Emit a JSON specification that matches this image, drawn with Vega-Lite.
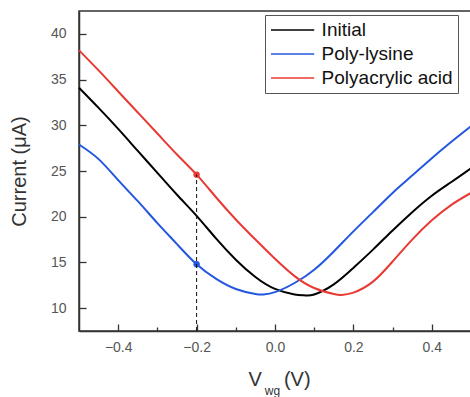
{
  "$schema": "https://vega.github.io/schema/vega-lite/v6.json",
  "width": 392,
  "height": 320,
  "autosize": {"type": "none"},
  "padding": {"left": 79, "top": 11, "right": 0, "bottom": 66},
  "background": "white",
  "config": {
    "view": {"stroke": "#333", "strokeWidth": 1.5},
    "font": "Liberation Sans",
    "axis": {"grid": false, "domainColor": "#333", "domainWidth": 1.5, "tickColor": "#333", "tickWidth": 1.3, "labelColor": "#555", "titleColor": "#333", "labelFont": "Liberation Sans", "titleFont": "Liberation Sans", "titleFontWeight": "normal"}
  },
  "datasets": {
    "curves": [
      {"s": "Initial", "v": -0.5, "i": 34.1}, {"s": "Initial", "v": -0.45, "i": 31.9}, {"s": "Initial", "v": -0.4, "i": 29.6}, {"s": "Initial", "v": -0.35, "i": 27.2}, {"s": "Initial", "v": -0.3, "i": 24.8}, {"s": "Initial", "v": -0.25, "i": 22.4}, {"s": "Initial", "v": -0.2, "i": 20.1}, {"s": "Initial", "v": -0.15, "i": 17.6}, {"s": "Initial", "v": -0.1, "i": 15.3}, {"s": "Initial", "v": -0.05, "i": 13.4}, {"s": "Initial", "v": 0, "i": 12.1}, {"s": "Initial", "v": 0.05, "i": 11.5}, {"s": "Initial", "v": 0.075, "i": 11.4}, {"s": "Initial", "v": 0.1, "i": 11.5}, {"s": "Initial", "v": 0.15, "i": 12.6}, {"s": "Initial", "v": 0.2, "i": 14.4}, {"s": "Initial", "v": 0.25, "i": 16.4}, {"s": "Initial", "v": 0.3, "i": 18.5}, {"s": "Initial", "v": 0.35, "i": 20.5}, {"s": "Initial", "v": 0.4, "i": 22.3}, {"s": "Initial", "v": 0.45, "i": 23.8}, {"s": "Initial", "v": 0.5, "i": 25.3},
      {"s": "Poly-lysine", "v": -0.5, "i": 27.9}, {"s": "Poly-lysine", "v": -0.45, "i": 26.3}, {"s": "Poly-lysine", "v": -0.4, "i": 24.0}, {"s": "Poly-lysine", "v": -0.35, "i": 21.7}, {"s": "Poly-lysine", "v": -0.3, "i": 19.3}, {"s": "Poly-lysine", "v": -0.25, "i": 17.0}, {"s": "Poly-lysine", "v": -0.2, "i": 14.8}, {"s": "Poly-lysine", "v": -0.15, "i": 13.2}, {"s": "Poly-lysine", "v": -0.1, "i": 12.1}, {"s": "Poly-lysine", "v": -0.05, "i": 11.55}, {"s": "Poly-lysine", "v": -0.03, "i": 11.5}, {"s": "Poly-lysine", "v": 0, "i": 11.75}, {"s": "Poly-lysine", "v": 0.05, "i": 12.75}, {"s": "Poly-lysine", "v": 0.1, "i": 14.2}, {"s": "Poly-lysine", "v": 0.15, "i": 16.2}, {"s": "Poly-lysine", "v": 0.2, "i": 18.4}, {"s": "Poly-lysine", "v": 0.25, "i": 20.5}, {"s": "Poly-lysine", "v": 0.3, "i": 22.6}, {"s": "Poly-lysine", "v": 0.35, "i": 24.5}, {"s": "Poly-lysine", "v": 0.4, "i": 26.4}, {"s": "Poly-lysine", "v": 0.45, "i": 28.2}, {"s": "Poly-lysine", "v": 0.5, "i": 29.9},
      {"s": "Polyacrylic acid", "v": -0.5, "i": 38.2}, {"s": "Polyacrylic acid", "v": -0.45, "i": 36.0}, {"s": "Polyacrylic acid", "v": -0.4, "i": 33.7}, {"s": "Polyacrylic acid", "v": -0.35, "i": 31.4}, {"s": "Polyacrylic acid", "v": -0.3, "i": 29.1}, {"s": "Polyacrylic acid", "v": -0.25, "i": 26.8}, {"s": "Polyacrylic acid", "v": -0.2, "i": 24.6}, {"s": "Polyacrylic acid", "v": -0.15, "i": 22.1}, {"s": "Polyacrylic acid", "v": -0.1, "i": 19.7}, {"s": "Polyacrylic acid", "v": -0.05, "i": 17.5}, {"s": "Polyacrylic acid", "v": 0, "i": 15.4}, {"s": "Polyacrylic acid", "v": 0.05, "i": 13.5}, {"s": "Polyacrylic acid", "v": 0.1, "i": 12.2}, {"s": "Polyacrylic acid", "v": 0.15, "i": 11.55}, {"s": "Polyacrylic acid", "v": 0.17, "i": 11.45}, {"s": "Polyacrylic acid", "v": 0.2, "i": 11.7}, {"s": "Polyacrylic acid", "v": 0.25, "i": 12.9}, {"s": "Polyacrylic acid", "v": 0.3, "i": 15.1}, {"s": "Polyacrylic acid", "v": 0.35, "i": 17.5}, {"s": "Polyacrylic acid", "v": 0.4, "i": 19.6}, {"s": "Polyacrylic acid", "v": 0.45, "i": 21.3}, {"s": "Polyacrylic acid", "v": 0.5, "i": 22.6}
    ],
    "marks": [
      {"s": "Poly-lysine", "v": -0.2, "i": 14.8},
      {"s": "Polyacrylic acid", "v": -0.2, "i": 24.6}
    ],
    "guide": [
      {"v": -0.2, "lo": 7.5, "hi": 24.6}
    ]
  },
  "layer": [
    {
      "layer": [
        {
          "data": {"name": "curves"},
          "mark": {"type": "line", "strokeWidth": 2, "interpolate": "natural"},
          "encoding": {
            "x": {"field": "v", "type": "quantitative",
              "scale": {"domain": [-0.5, 0.5], "nice": false, "zero": false},
              "axis": {"values": [-0.4, -0.3, -0.2, -0.1, 0, 0.1, 0.2, 0.3, 0.4], "format": ".1f",
                "labelExpr": "abs(round(datum.value*10)) % 2 === 0 ? datum.label : ''",
                "tickSize": {"condition": {"test": "abs(round(datum.value*10)) % 2 === 0", "value": -7}, "value": -4},
                "labelFontSize": 14, "labelPadding": 16,
                "title": "V\u00a0\u00a0\u00a0\u00a0(V)", "titleFontSize": 20, "titleX": 200, "titleY": 54, "titleBaseline": "alphabetic"}},
            "y": {"field": "i", "type": "quantitative",
              "scale": {"domain": [7.5, 42.5], "nice": false, "zero": false},
              "axis": {"values": [10, 12.5, 15, 17.5, 20, 22.5, 25, 27.5, 30, 32.5, 35, 37.5, 40],
                "labelExpr": "datum.value % 5 === 0 ? datum.label : ''",
                "tickSize": {"condition": {"test": "datum.value % 5 === 0", "value": -7}, "value": -4},
                "labelFontSize": 14, "labelPadding": 20,
                "title": "Current (\u03bcA)", "titleFontSize": 20, "titleX": -60, "titleY": 160, "titleBaseline": "middle"}},
            "color": {"field": "s", "type": "nominal",
              "scale": {"domain": ["Initial", "Poly-lysine", "Polyacrylic acid"], "range": ["#000000", "#2457e0", "#e83a33"]},
              "legend": {"title": null, "orient": "none", "legendX": 186, "legendY": 4,
                "symbolType": "M-2.4,0H2.4", "symbolSize": 324, "symbolStrokeWidth": 1.5, "symbolOffset": 12.6,
                "labelFontSize": 19, "labelFont": "Liberation Sans", "labelColor": "#111", "labelOffset": 19,
                "rowPadding": 4, "padding": 5, "fillColor": "white", "strokeColor": "#555"}}
          }
        },
        {
          "data": {"name": "marks"},
          "mark": {"type": "point", "filled": true, "opacity": 1, "size": 40},
          "encoding": {
            "x": {"field": "v", "type": "quantitative"},
            "y": {"field": "i", "type": "quantitative"},
            "color": {"field": "s", "type": "nominal", "legend": null}
          }
        }
      ]
    },
    {
      "data": {"name": "guide"},
      "mark": {"type": "rule", "strokeDash": [4, 3], "strokeWidth": 1, "color": "#111"},
      "encoding": {
        "x": {"field": "v", "type": "quantitative",
          "scale": {"domain": [-0.5, 0.5], "nice": false, "zero": false},
          "axis": {"orient": "top", "domain": false, "ticks": false, "labels": false, "grid": false,
            "title": "wg", "titleFontSize": 12, "titleX": 193, "titleY": 383, "titleBaseline": "alphabetic"}},
        "y": {"field": "lo", "type": "quantitative"},
        "y2": {"field": "hi"}
      }
    }
  ],
  "resolve": {"scale": {"x": "independent"}}
}
